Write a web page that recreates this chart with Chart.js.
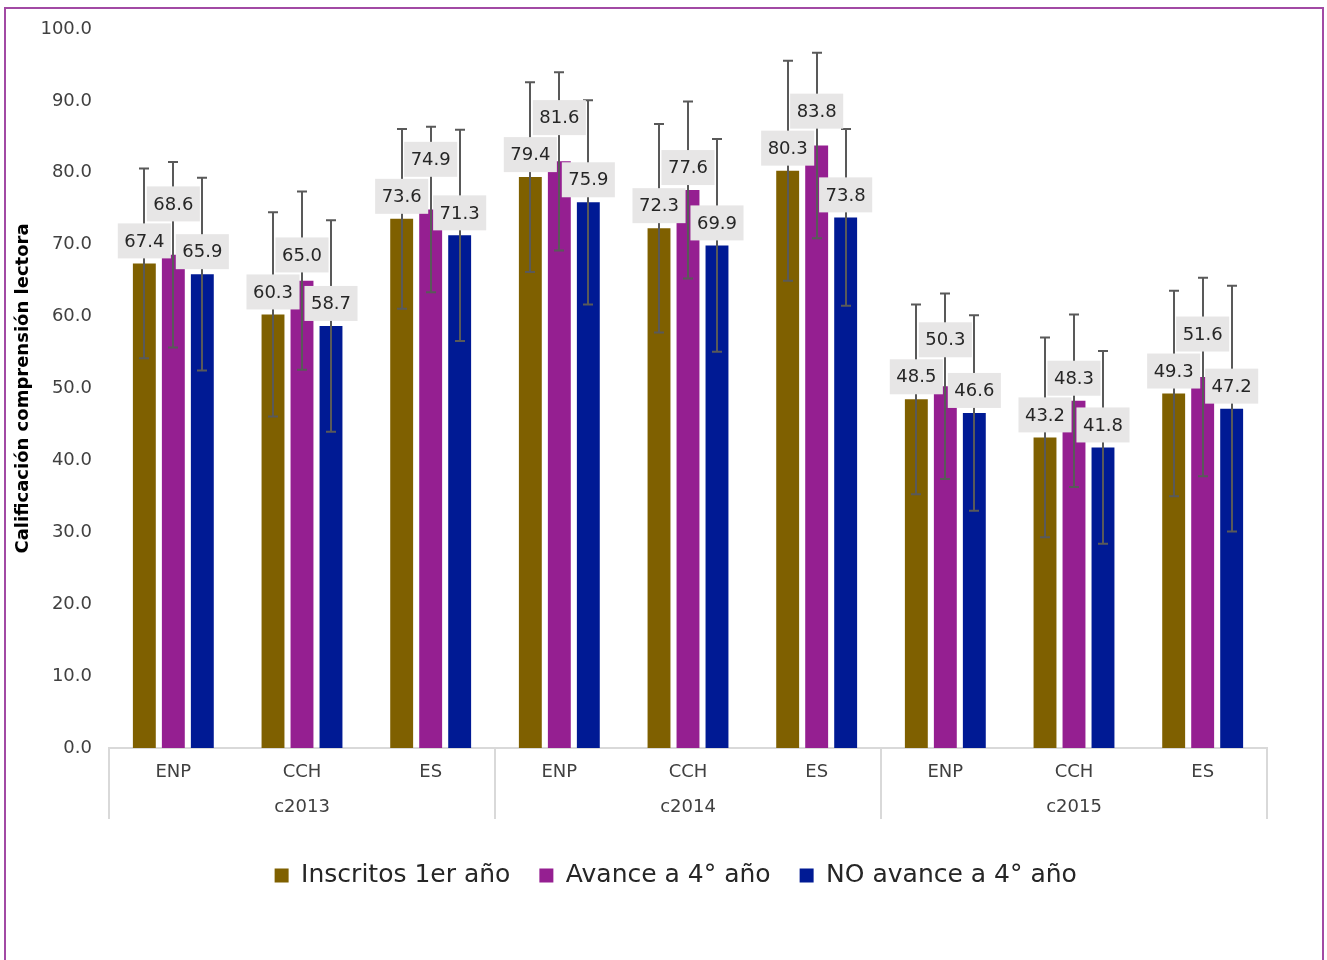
<!DOCTYPE html>
<html><head><meta charset="utf-8">
<script src="https://cdn.jsdelivr.net/npm/chart.js@4.4.1/dist/chart.umd.min.js"></script>
<style>
html,body{margin:0;padding:0;background:#fff;overflow:hidden}
#c{position:absolute;left:0;top:0}
#frame{position:absolute;left:4px;top:7px;width:1320px;height:980px;border:2px solid #A24AA4;box-sizing:border-box;pointer-events:none}
</style></head><body>
<canvas id="c" width="1327" height="960"></canvas>
<div id="frame"></div>
<script>
const categories = ['ENP','CCH','ES','ENP','CCH','ES','ENP','CCH','ES'];
const cohorts = ['c2013','c2014','c2015'];
const seriesNames = ['Inscritos 1er año','Avance a 4° año','NO avance a 4° año'];
const inscritos = [67.4,60.3,73.6,79.4,72.3,80.3,48.5,43.2,49.3];
const avance    = [68.6,65.0,74.9,81.6,77.6,83.8,50.3,48.3,51.6];
const noAvance  = [65.9,58.7,71.3,75.9,69.9,73.8,46.6,41.8,47.2];
const errInscritos = [13.2,14.2,12.5,13.2,14.5,15.3,13.2,13.9,14.3];
const errAvance    = [12.9,12.4,11.5,12.4,12.3,12.9,12.9,12.0,13.8];
const errNoAvance  = [13.4,14.7,14.7,14.2,14.8,12.3,13.6,13.4,17.1];
const yMin = 0, yMax = 100, yStep = 10;
const yTitle = 'Calificación comprensión lectora';

const FONT = "'DejaVu Sans', sans-serif";
const colors = ['#7F6000','#951F91','#001A94'];
const errors = [errInscritos, errAvance, errNoAvance];

const errorLabelPlugin = {
  id: 'errLabels',
  afterDatasetsDraw(chart) {
    const ctx = chart.ctx;
    const y = chart.scales.y;
    ctx.save();
    ctx.strokeStyle = '#595959';
    ctx.lineWidth = 2;
    chart.data.datasets.forEach((ds, d) => {
      const meta = chart.getDatasetMeta(d);
      meta.data.forEach((bar, i) => {
        const v = ds.data[i], e = errors[d][i];
        const yt = y.getPixelForValue(v + e), yb = y.getPixelForValue(v - e);
        const x = Math.round(bar.x);
        ctx.beginPath();
        ctx.moveTo(x, yt); ctx.lineTo(x, yb);
        ctx.moveTo(x - 5, yt); ctx.lineTo(x + 5, yt);
        ctx.moveTo(x - 5, yb); ctx.lineTo(x + 5, yb);
        ctx.stroke();
      });
    });
    ctx.font = '18px ' + FONT;
    ctx.textAlign = 'center';
    ctx.textBaseline = 'middle';
    const H = 35, GAP = 5;
    const n = chart.data.labels.length;
    for (let i = 0; i < n; i++) {
      const boxes = chart.data.datasets.map((ds, d) => {
        const bar = chart.getDatasetMeta(d).data[i];
        const txt = ds.data[i].toFixed(1);
        const w = ctx.measureText(txt).width + 13;
        const bottom = bar.y - GAP;
        return {x: bar.x, w, bottom, top: bottom - H, txt};
      });
      const a = boxes[1];
      for (let k = 0; k < 3; k++) {
        [boxes[0], boxes[2]].forEach(o => {
          if (a.bottom > o.top && a.top < o.bottom) {
            a.bottom = o.top - 2; a.top = a.bottom - H;
          }
        });
      }
      boxes.forEach(b => {
        ctx.fillStyle = '#E7E6E6';
        ctx.fillRect(b.x - b.w / 2, b.top, b.w, H);
        ctx.fillStyle = '#262626';
        ctx.fillText(b.txt, b.x, b.top + H / 2 + 1);
      });
    }
    ctx.restore();
  }
};

const separatorPlugin = {
  id: 'separators',
  afterLayout(chart) {
    const lg = chart.legend;
    if (lg) {
      const target = (chart.width / 2 + (chart.chartArea.left + chart.chartArea.right) / 2) / 2;
      const shift = target - (lg.left + lg.right) / 2;
      lg.left += shift; lg.right += shift;
    }
  },
  afterDraw(chart) {
    const ctx = chart.ctx, x = chart.scales.x, area = chart.chartArea;
    const xs = [area.left];
    for (let g = 1; g < cohorts.length; g++) {
      const k = g * categories.length / cohorts.length;
      xs.push((x.getPixelForValue(k - 1) + x.getPixelForValue(k)) / 2);
    }
    xs.push(area.right);
    ctx.save();
    ctx.strokeStyle = '#D9D9D9';
    ctx.lineWidth = 2;
    xs.forEach(px => {
      ctx.beginPath();
      ctx.moveTo(Math.round(px), area.bottom);
      ctx.lineTo(Math.round(px), area.bottom + 71);
      ctx.stroke();
    });
    ctx.restore();
  }
};

new Chart(document.getElementById('c'), {
  type: 'bar',
  data: {
    labels: categories,
    datasets: [
      {label: seriesNames[0], data: inscritos, backgroundColor: colors[0]},
      {label: seriesNames[1], data: avance, backgroundColor: colors[1]},
      {label: seriesNames[2], data: noAvance, backgroundColor: colors[2]}
    ]
  },
  options: {
    responsive: false,
    animation: false,
    layout: {padding: {left: 6, right: 60, top: 29, bottom: 62}},
    datasets: {bar: {categoryPercentage: 0.676, barPercentage: 0.79}},
    scales: {
      x: {
        grid: {display: false, drawTicks: false},
        border: {display: true, color: '#D9D9D9', width: 2},
        ticks: {font: {family: FONT, size: 18}, color: '#404040', padding: 14},
        afterFit(s) { s.height = 40; }
      },
      x2: {
        type: 'category', labels: cohorts, position: 'bottom', offset: true,
        grid: {display: false, drawTicks: false},
        border: {display: false},
        ticks: {font: {family: FONT, size: 18}, color: '#404040', padding: 9},
        afterFit(s) { s.height = 46; }
      },
      y: {
        min: yMin, max: yMax,
        grid: {display: false, drawTicks: false},
        border: {display: false},
        ticks: {stepSize: yStep, callback: v => v.toFixed(1), font: {family: FONT, size: 18}, color: '#404040', padding: 17},
        title: {display: true, text: yTitle, color: '#000', font: {family: FONT, size: 18, weight: 'bold'}, padding: {top: 7, bottom: 0}},
        afterFit(s) { s.width = 103; }
      }
    },
    plugins: {
      legend: {
        position: 'bottom',
        fullSize: false,
        labels: {boxWidth: 14, boxHeight: 14, padding: 29, color: '#262626', font: {family: FONT, size: 25}}
      },
      tooltip: {enabled: false}
    }
  },
  plugins: [errorLabelPlugin, separatorPlugin]
});
</script>
</body></html>
